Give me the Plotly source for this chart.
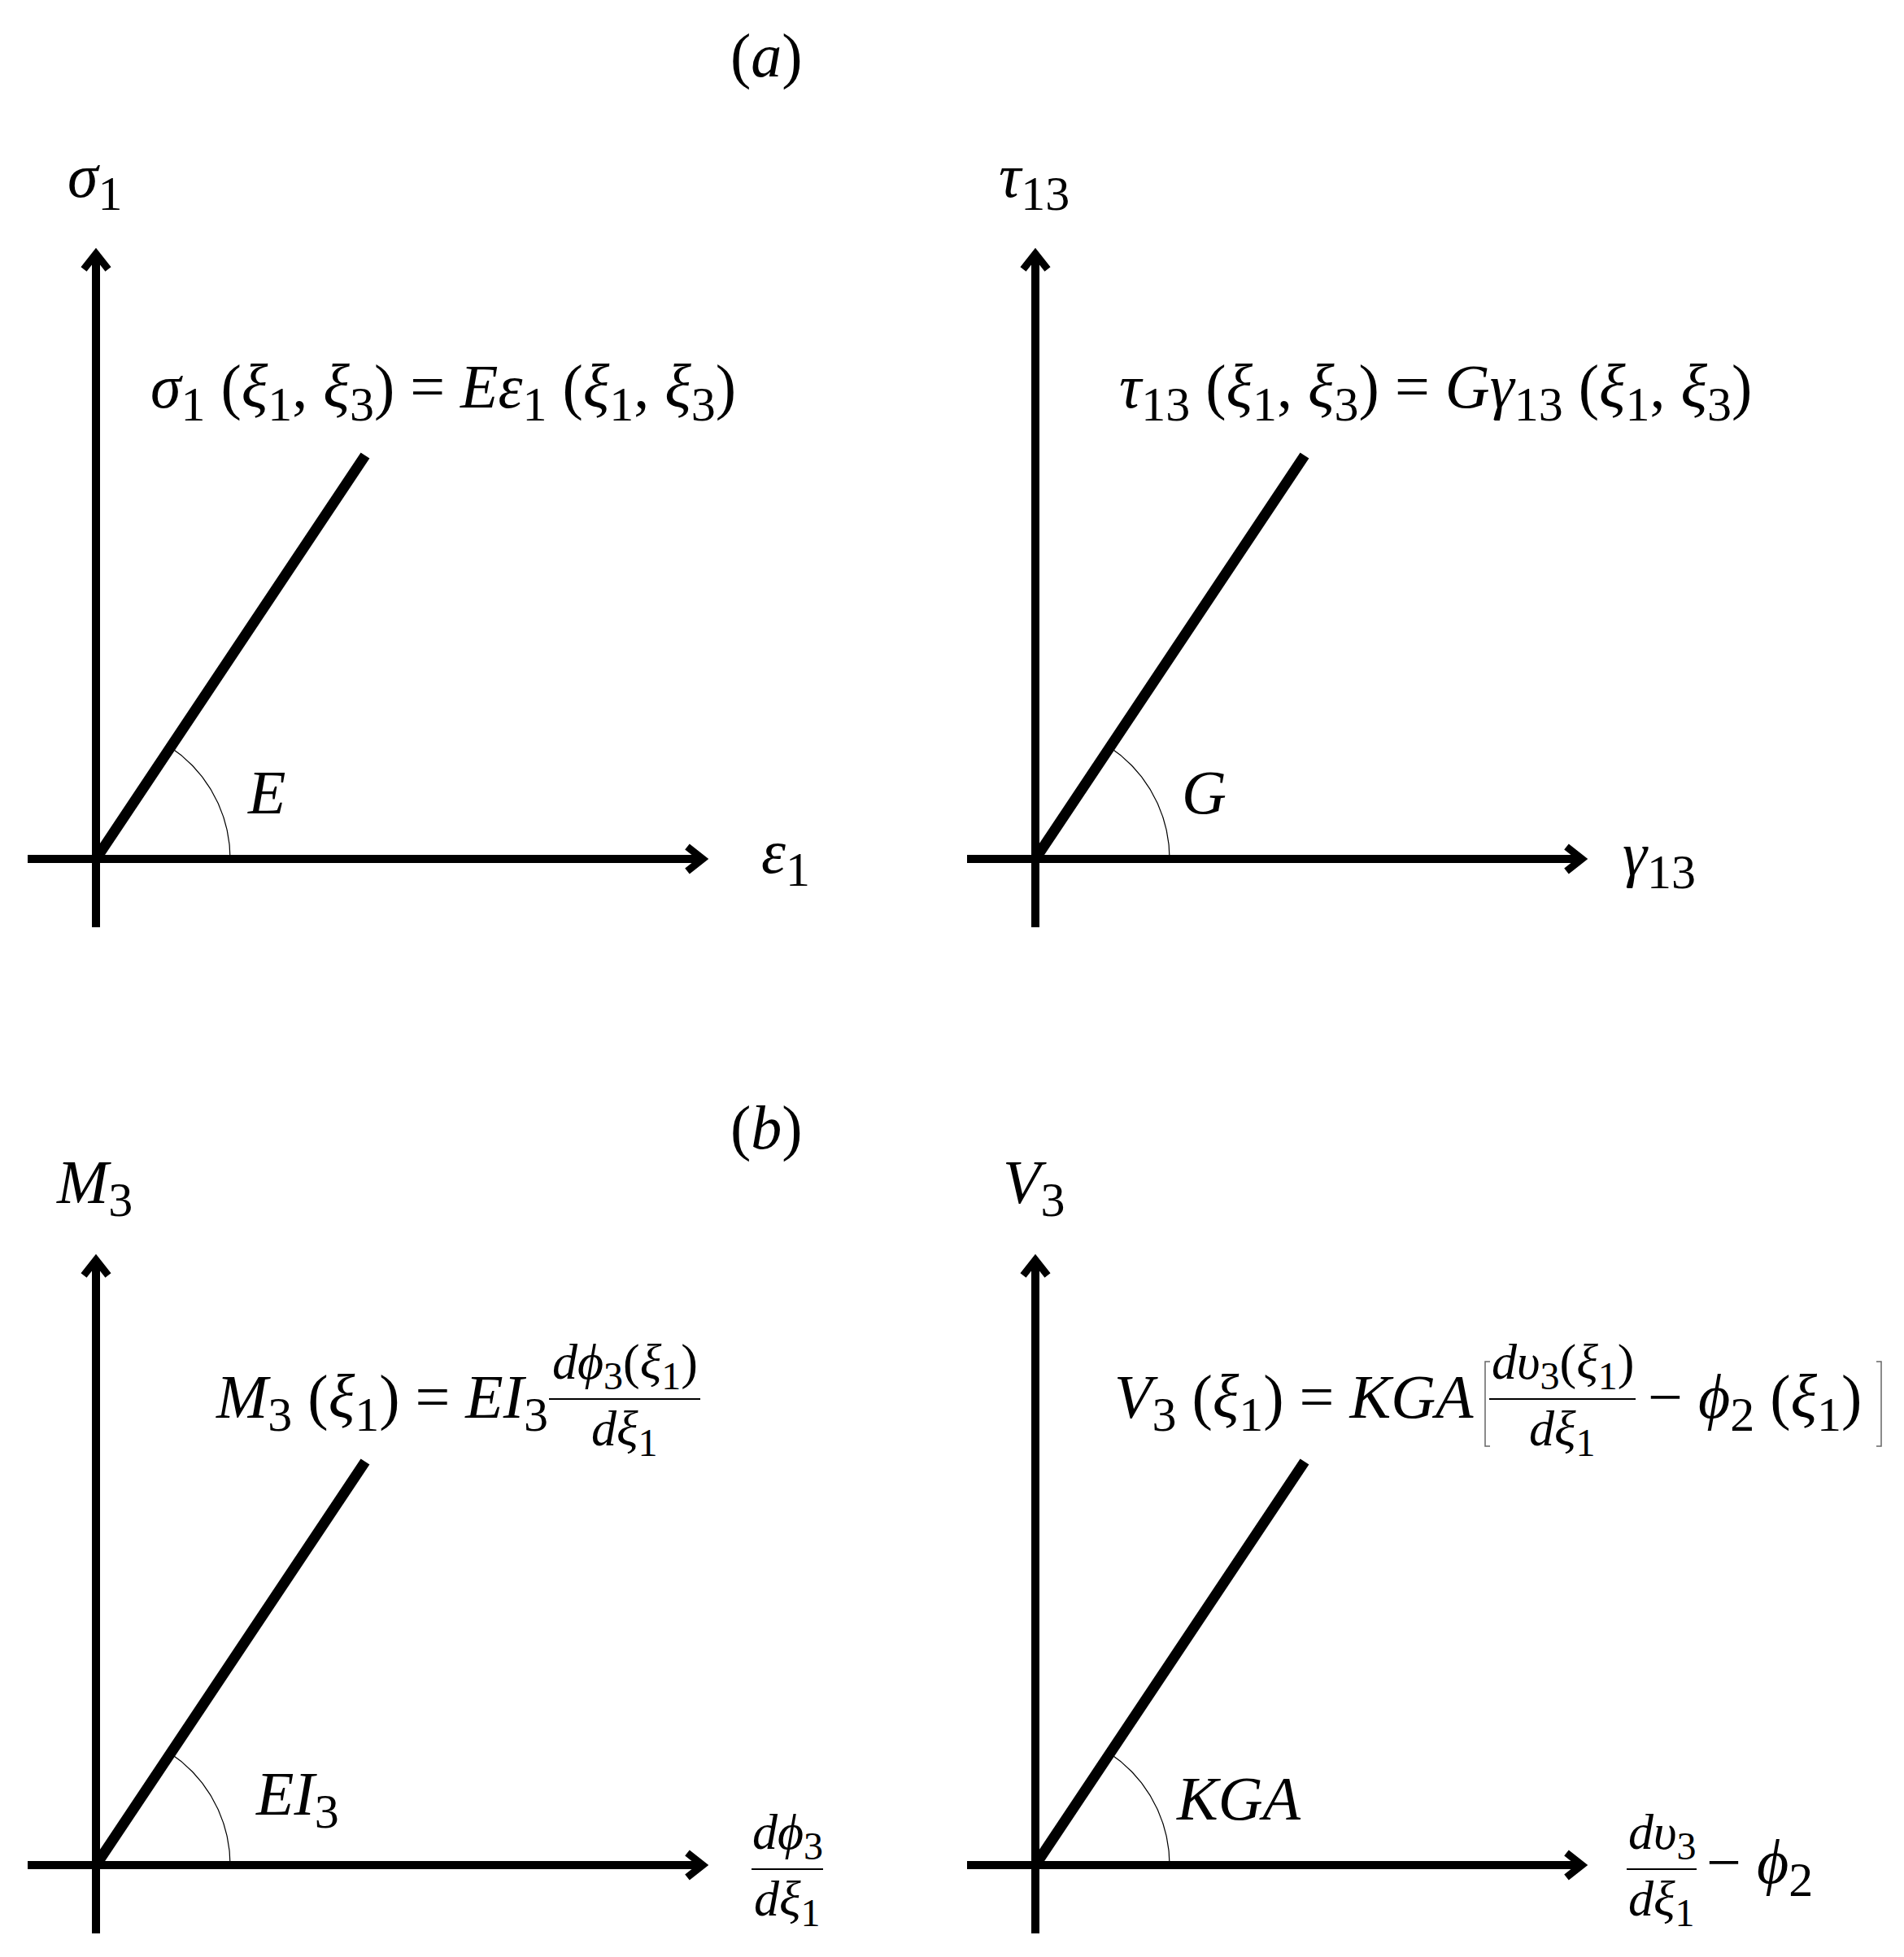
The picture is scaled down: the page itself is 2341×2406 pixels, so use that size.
import numpy as np
import plotly.graph_objects as go

W, H = 2341, 2406
PX = 100.0  # pixels per data unit (same on both axes)

# ---------------- data (in data units, origin of each diagram at 0,0) ----------------
panel_names = ["a_left", "a_right", "b_left", "b_right"]
x_axis_min = [-0.84, -0.84, -0.84, -0.84]
x_axis_max = [7.44, 6.70, 7.44, 6.70]
y_axis_min = [-0.84, -0.84, -0.84, -0.84]
y_axis_max = [7.42, 7.42, 7.42, 7.42]
law_x_end = [3.31, 3.31, 3.31, 3.31]   # end point of the linear law
law_y_end = [4.96, 4.96, 4.96, 4.96]
arc_radius = [1.65, 1.65, 1.65, 1.65]

FONT = "Liberation Serif"
FS = 76
SUBFS = 60
FRFS = 62
FRSUB = 48
BLACK = "#000000"


def sb(s, size=SUBFS):
    return f"<sub><span style='font-size:{size}px'>{s}</span></sub>"


y_labels = ["<i>σ</i>" + sb("1"), "<i>τ</i>" + sb("13"), "<i>M</i>" + sb("3"), "<i>V</i>" + sb("3")]
slope_labels = ["<i>E</i>", "<i>G</i>", "<i>EI</i>" + sb("3"), "<i>KGA</i>"]
group_titles = ["(<i>a</i>)", "(<i>b</i>)"]

# ---------------- layout helpers ----------------
# page body adds an 8px margin -> compensate
origin_px = [(110, 1048), (1265, 1048), (110, 2285), (1265, 2285)]
cells = [(0, 0), (1, 0), (0, 1), (1, 1)]  # (col, row) ; row 0 = top

fig = go.Figure()
layout_axes = {}
annotations = []
shapes = []


def ax_names(i):
    s = "" if i == 0 else str(i + 1)
    return "x" + s, "y" + s


def add_text(i, x, y, text, size=FS, xanchor="center", yanchor="middle"):
    xr, yr = ax_names(i)
    annotations.append(dict(x=x, y=y, xref=xr, yref=yr, text=text, showarrow=False,
                            xanchor=xanchor, yanchor=yanchor, borderpad=0,
                            font=dict(family=FONT, size=size, color=BLACK)))


def add_frac(i, xc, ybar, num, den, half, size=FRFS):
    xr, yr = ax_names(i)
    add_text(i, xc, ybar + 0.01, num, size=size, yanchor="bottom")
    add_text(i, xc, ybar - 0.01, den, size=size, yanchor="top")
    shapes.append(dict(type="line", xref=xr, yref=yr, x0=xc - half, x1=xc + half,
                       y0=ybar, y1=ybar, line=dict(color=BLACK, width=2)))


for i, name in enumerate(panel_names):
    col, row = cells[i]
    ox, oy = origin_px[i]
    xr, yr = ax_names(i)
    xkey = "xaxis" + ("" if i == 0 else str(i + 1))
    ykey = "yaxis" + ("" if i == 0 else str(i + 1))
    x0p, x1p = col * W / 2, (col + 1) * W / 2
    ytop, ybot = row * H / 2, (row + 1) * H / 2
    layout_axes[xkey] = dict(domain=[col / 2, (col + 1) / 2],
                             range=[(x0p - ox) / PX, (x1p - ox) / PX],
                             visible=False, anchor=yr, fixedrange=True)
    layout_axes[ykey] = dict(domain=[0.5 * (1 - row), 0.5 * (2 - row)],
                             range=[(oy - ybot) / PX, (oy - ytop) / PX],
                             visible=False, anchor=xr, fixedrange=True)

    ln = dict(color=BLACK, width=10)
    # axes
    fig.add_trace(go.Scatter(x=[x_axis_min[i], x_axis_max[i]], y=[0, 0], mode="lines",
                             line=ln, xaxis=xr, yaxis=yr, hoverinfo="skip"))
    fig.add_trace(go.Scatter(x=[0, 0], y=[y_axis_min[i], y_axis_max[i]], mode="lines",
                             line=ln, xaxis=xr, yaxis=yr, hoverinfo="skip"))
    # open arrow heads
    a, b = 0.17, 0.15
    fig.add_trace(go.Scatter(x=[x_axis_max[i] - a, x_axis_max[i] + 0.02, x_axis_max[i] - a],
                             y=[b, 0, -b], mode="lines", line=dict(color=BLACK, width=9),
                             xaxis=xr, yaxis=yr, hoverinfo="skip"))
    fig.add_trace(go.Scatter(x=[-b, 0, b],
                             y=[y_axis_max[i] - a, y_axis_max[i] + 0.02, y_axis_max[i] - a],
                             mode="lines", line=dict(color=BLACK, width=9),
                             xaxis=xr, yaxis=yr, hoverinfo="skip"))
    # linear law
    fig.add_trace(go.Scatter(x=[0, law_x_end[i]], y=[0, law_y_end[i]], mode="lines",
                             line=dict(color=BLACK, width=13), xaxis=xr, yaxis=yr,
                             hoverinfo="skip"))
    # angle arc
    th = np.linspace(0, np.arctan2(law_y_end[i], law_x_end[i]), 80)
    fig.add_trace(go.Scatter(x=arc_radius[i] * np.cos(th), y=arc_radius[i] * np.sin(th),
                             mode="lines", line=dict(color=BLACK, width=1.2),
                             xaxis=xr, yaxis=yr, hoverinfo="skip"))
    # y label and slope label
    add_text(i, -0.02, 8.34, y_labels[i])
    add_text(i, [2.09, 2.07, 2.47, 2.50][i], 0.82, slope_labels[i])

# x-axis labels
add_text(0, 8.48, 0.03, "<i>ε</i>" + sb("1"))
add_text(1, 7.67, 0.0, "<i>γ</i>" + sb("13"))
add_frac(2, 8.50, -0.05, "<i>dϕ</i>" + sb("3", FRSUB), "<i>dξ</i>" + sb("1", FRSUB), 0.44)
add_frac(3, 7.70, -0.05, "<i>dυ</i>" + sb("3", FRSUB), "<i>dξ</i>" + sb("1", FRSUB), 0.43)
add_text(3, 8.24, -0.02, "− <i>ϕ</i>" + sb("2"), xanchor="left")

# constitutive equations
add_text(0, 4.27, 5.75,
         "<i>σ</i>" + sb("1") + " (<i>ξ</i>" + sb("1") + ", <i>ξ</i>" + sb("3") + ") = "
         "<i>Eε</i>" + sb("1") + " (<i>ξ</i>" + sb("1") + ", <i>ξ</i>" + sb("3") + ")")
add_text(1, 4.92, 5.75,
         "<i>τ</i>" + sb("13") + " (<i>ξ</i>" + sb("1") + ", <i>ξ</i>" + sb("3") + ") = "
         "<i>Gγ</i>" + sb("13") + " (<i>ξ</i>" + sb("1") + ", <i>ξ</i>" + sb("3") + ")")
add_text(2, 5.57, 5.70, "<i>M</i>" + sb("3") + " (<i>ξ</i>" + sb("1") + ") = <i>EI</i>" + sb("3"),
         xanchor="right")
add_frac(2, 6.50, 5.73, "<i>dϕ</i>" + sb("3", FRSUB) + "(<i>ξ</i>" + sb("1", FRSUB) + ")",
         "<i>dξ</i>" + sb("1", FRSUB), 0.93)
add_text(3, 5.40, 5.70, "<i>V</i>" + sb("3") + " (<i>ξ</i>" + sb("1") + ") = <i>KGA</i>",
         xanchor="right")
add_frac(3, 6.48, 5.73, "<i>dυ</i>" + sb("3", FRSUB) + "(<i>ξ</i>" + sb("1", FRSUB) + ")",
         "<i>dξ</i>" + sb("1", FRSUB), 0.90)
add_text(3, 7.52, 5.70, "− <i>ϕ</i>" + sb("2") + " (<i>ξ</i>" + sb("1") + ")", xanchor="left")
# tall square brackets
for xb, sgn in [(5.53, 1), (10.40, -1)]:
    shapes.append(dict(type="path", xref="x4", yref="y4",
                       path=f"M {xb + sgn*0.06},6.19 L {xb},6.19 L {xb},5.15 L {xb + sgn*0.06},5.15",
                       line=dict(color="#666666", width=1.5)))

# group titles (paper coordinates)
for t, yp in zip(group_titles, [61, 1378]):
    annotations.append(dict(x=934 / W, y=1 - yp / H, xref="paper", yref="paper", text=t,
                            showarrow=False, xanchor="center", yanchor="middle",
                            font=dict(family=FONT, size=FS, color=BLACK)))

fig.update_layout(width=W, height=H, margin=dict(l=0, r=0, t=0, b=0),
                  paper_bgcolor="white", plot_bgcolor="white", showlegend=False,
                  annotations=annotations, shapes=shapes, **layout_axes)
fig.write_html("out.html")
